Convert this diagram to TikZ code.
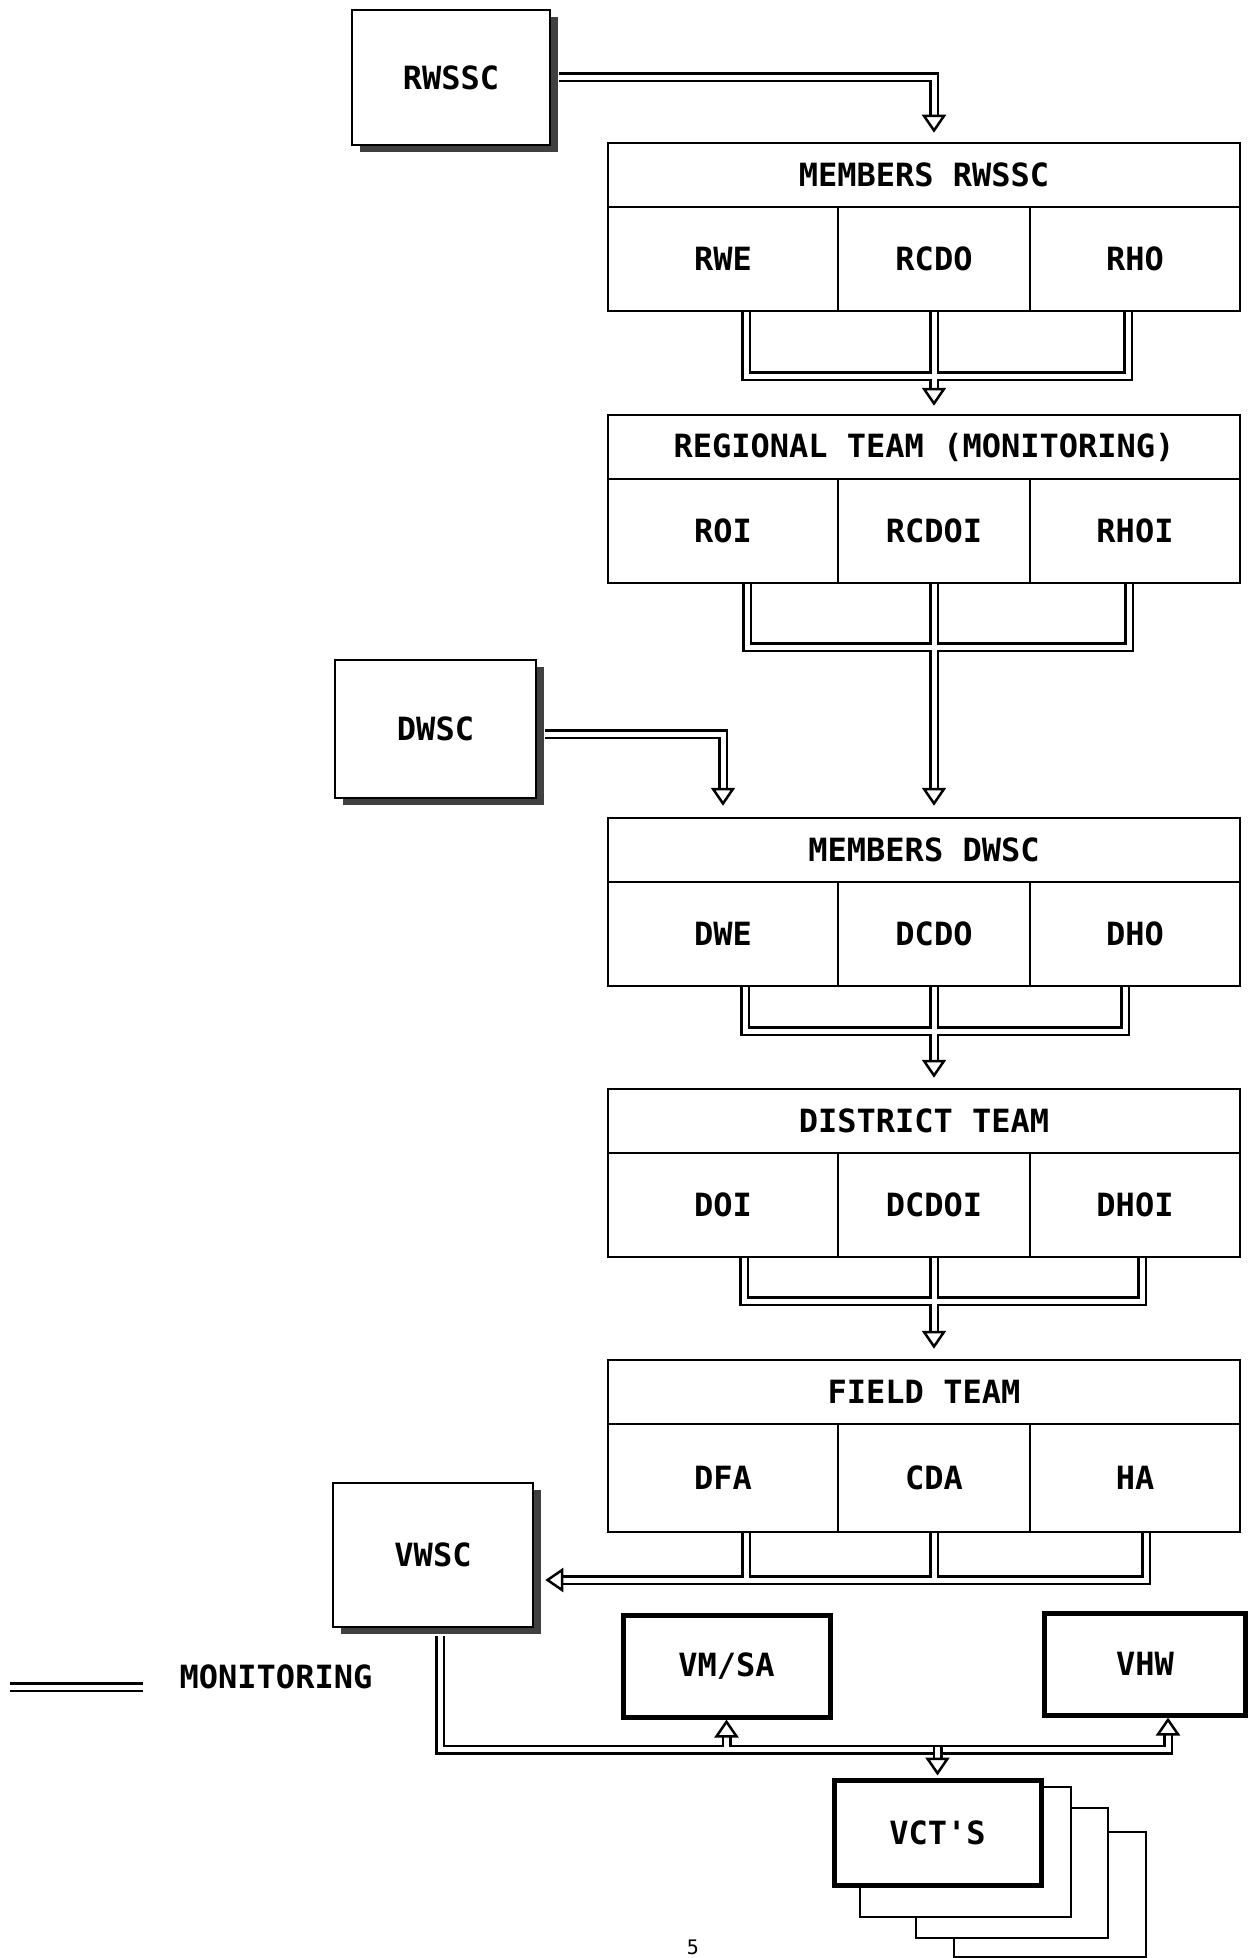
\documentclass[tikz,border=0pt]{standalone}
\usepackage{fontspec}
\setmainfont{DejaVu Sans Mono}
\usetikzlibrary{arrows.meta,shadows}

\begin{document}
\begin{tikzpicture}[x=1pt, y=-1pt,
  font=\fontsize{32}{36}\selectfont\bfseries,
  cell/.style={draw, line width=2.5pt, fill=white, inner sep=0pt},
  shadowbox/.style={cell, drop shadow={shadow xshift=8pt, shadow yshift=-7pt, fill=black!75, opacity=1}},
  heavybox/.style={cell, line width=5pt},
  hdr/.style={cell, minimum width=632pt, minimum height=64pt},
  ca/.style={cell, minimum width=230pt, minimum height=104pt},
  cb/.style={cell, minimum width=192pt, minimum height=104pt},
  cc/.style={cell, minimum width=210pt, minimum height=104pt},
  mon/.style={double, line width=2.5pt, double distance=5pt},
  montip/.tip={Triangle[open, length=18pt, width=24pt]},
  monarrow/.style={-montip}]

  \useasboundingbox (0,0) rectangle (1248,1958);

  % komite dengan bayangan
  \node[shadowbox, minimum width=198pt, minimum height=135pt] (RWSSC) at (451,77.5) {RWSSC};
  \node[shadowbox, minimum width=201pt, minimum height=138pt] (DWSC) at (435.5,729) {DWSC};
  \node[shadowbox, minimum width=200pt, minimum height=144pt] (VWSC) at (433,1555) {VWSC};

  % anggota RWSSC
  \node[hdr] (MR) at (924,175) {MEMBERS RWSSC};
  \node[ca] (RWE) at (723,259) {RWE};
  \node[cb] (RCDO) at (934,259) {RCDO};
  \node[cc] (RHO) at (1135,259) {RHO};

  % tim regional
  \node[hdr] (RT) at (924,447) {REGIONAL TEAM (MONITORING)};
  \node[ca] (ROI) at (723,531) {ROI};
  \node[cb] (RCDOI) at (934,531) {RCDOI};
  \node[cc] (RHOI) at (1135,531) {RHOI};

  % anggota DWSC
  \node[hdr] (MD) at (924,850) {MEMBERS DWSC};
  \node[ca] (DWE) at (723,934) {DWE};
  \node[cb] (DCDO) at (934,934) {DCDO};
  \node[cc] (DHO) at (1135,934) {DHO};

  % tim distrik
  \node[hdr] (DT) at (924,1121) {DISTRICT TEAM};
  \node[ca] (DOI) at (723,1205) {DOI};
  \node[cb] (DCDOI) at (934,1205) {DCDOI};
  \node[cc] (DHOI) at (1135,1205) {DHOI};

  % tim lapangan
  \node[hdr] (FT) at (924,1392) {FIELD TEAM};
  \node[ca, minimum height=108pt] (DFA) at (723,1478) {DFA};
  \node[cb, minimum height=108pt] (CDA) at (934,1478) {CDA};
  \node[cc, minimum height=108pt] (HA) at (1135,1478) {HA};

  % tingkat desa
  \node[heavybox, minimum width=207pt, minimum height=102pt] (VMSA) at (726.5,1666) {VM/SA};
  \node[heavybox, minimum width=201pt, minimum height=102pt] (VHW) at (1145,1664) {VHW};
  \node[cell, minimum width=192pt, minimum height=125pt] (VCT4) at (1050,1894.5) {};
  \node[cell, minimum width=192pt, minimum height=130pt] (VCT3) at (1012,1873) {};
  \node[cell, minimum width=211pt, minimum height=130pt] (VCT2) at (965.5,1852) {};
  \node[heavybox, minimum width=207pt, minimum height=105pt] (VCT1) at (937.5,1832.5) {VCT\textquotesingle S};

  % keterangan
  \coordinate (LGa) at (10,1687);
  \coordinate (LGb) at (143,1687);
  \node (LG) at (276,1677) {MONITORING};
  \node[font=\fontsize{20}{24}\selectfont, anchor=south, inner sep=0pt] (PG) at (693,1955) {5};

  % garis monitoring
  \draw[mon, monarrow, shorten >=9pt] ([xshift=8pt]RWSSC.east) -| (RCDO |- MR.north);
  \draw[mon, monarrow, shorten >=8pt] ([xshift=23pt]RWE.south) -- ++(0,64) -| ([xshift=-7pt]RHO.south)
    (RCDO.south) -- (RCDO |- RT.north);
  \draw[mon, monarrow, shorten >=11pt] ([xshift=24pt]ROI.south) -- ++(0,63) -| ([xshift=-6pt]RHOI.south)
    (RCDOI.south) -- (RCDOI |- MD.north);
  \draw[mon, monarrow, shorten >=11pt] ([xshift=8pt,yshift=-5pt]DWSC.east) -| (DWE |- MD.north);
  \draw[mon, monarrow, shorten >=10pt] ([xshift=22pt]DWE.south) -- ++(0,44) -| ([xshift=-10pt]DHO.south)
    (DCDO.south) -- (DCDO |- DT.north);
  \draw[mon, monarrow, shorten >=10pt] ([xshift=21pt]DOI.south) -- ++(0,43) -| ([xshift=7pt]DHOI.south)
    (DCDOI.south) -- (DCDOI |- FT.north);
  \draw[mon, monarrow, shorten >=1pt] ([xshift=23pt]DFA.south) -- ++(0,47) (CDA.south) -- ++(0,47)
    ([xshift=11pt]HA.south) |- ([xshift=10pt,yshift=-25pt]VWSC.east);
  \draw[mon, montip-montip]
    ([xshift=7pt,yshift=-8pt]VWSC.south) |- ([yshift=-30pt]VMSA.south)
    (VMSA.south) -- ++(0,30) -| ([xshift=23pt]VHW.south);
  \draw[mon, monarrow, shorten >=2pt] ([yshift=30.5pt]VCT1.north) -- (VCT1.north);
  \draw[mon] (LGa) -- (LGb);

\end{tikzpicture}
\end{document}
